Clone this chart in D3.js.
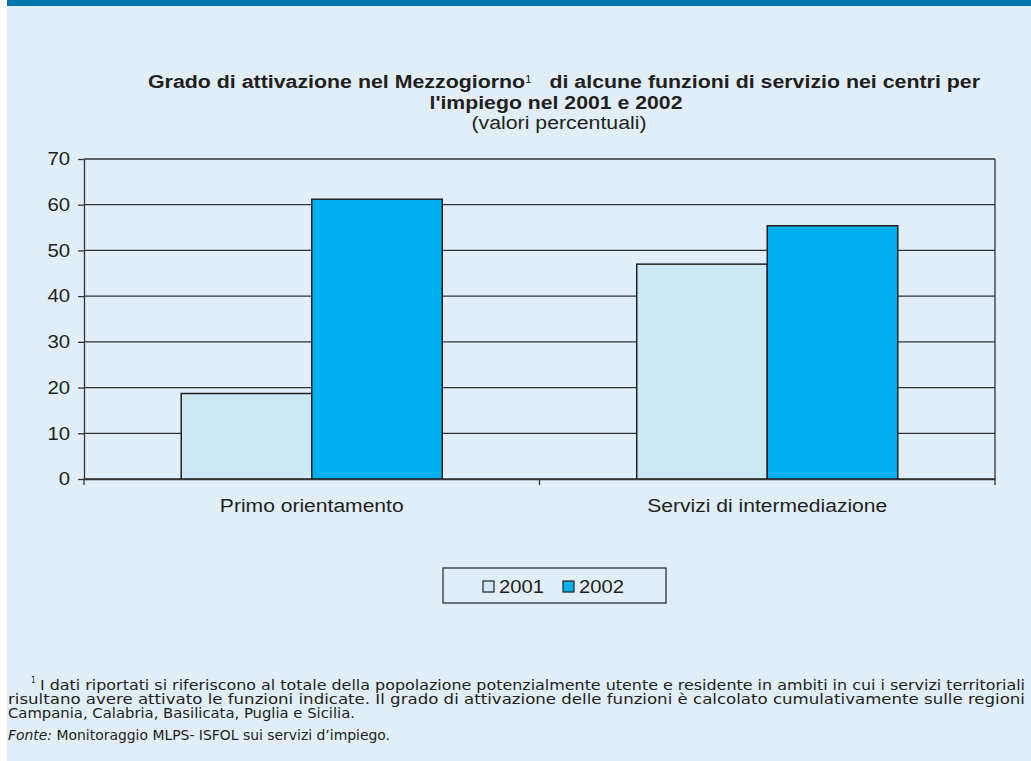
<!DOCTYPE html>
<html>
<head>
<meta charset="utf-8">
<script src="https://cdn.jsdelivr.net/npm/d3@7"></script>
<style>
  body { margin: 0; background: #fff; }
  svg { display: block; }
</style>
</head>
<body>
<svg class="viz" width="1031" height="761"></svg>
<script>
// data
var categories = ["Primo orientamento", "Servizi di intermediazione"];
var years = ["2001", "2002"];
var values2001 = [18.7, 47.0];
var values2002 = [61.2, 55.4];
var yTicks = [0, 10, 20, 30, 40, 50, 60, 70];
var yearColors = ["#cce9f5", "#00b0ee"];

var footLines = [
  "I dati riportati si riferiscono al totale della popolazione potenzialmente utente e residente in ambiti in cui i servizi territoriali",
  "risultano avere attivato le funzioni indicate. Il grado di attivazione delle funzioni è calcolato cumulativamente sulle regioni",
  "Campania, Calabria, Basilicata, Puglia e Sicilia."
];

var svg = d3.select(".viz"),
    margin = {top: 159, right: 36, bottom: 282, left: 84},
    width = +svg.attr("width"),
    height = +svg.attr("height");

var ink = "#231f20";
var sans = "'Liberation Sans', Arial, sans-serif";
var foot = "'DejaVu Sans Condensed', 'Liberation Sans Narrow', sans-serif";

// the original text is a bit wider than its height suggests
var stretch = function (sel, k) {
  sel.each(function () {
    var w = this.getComputedTextLength();
    d3.select(this).attr("textLength", w * k).attr("lengthAdjust", "spacingAndGlyphs");
  });
};
var fit = function (sel, w) {
  sel.attr("textLength", w).attr("lengthAdjust", "spacingAndGlyphs");
};

// background and top band
svg.append("rect").attr("x", 7).attr("y", 0).attr("width", width - 7).attr("height", height).attr("fill", "#e1eef7");
svg.append("rect").attr("x", 7).attr("y", 0).attr("width", width - 7).attr("height", 6).attr("fill", "#0077aa");

var x0 = d3.scaleBand()
  .domain(categories)
  .range([margin.left, width - margin.right]);

var x1 = d3.scaleBand()
  .domain(years)
  .range([0, x0.bandwidth()])
  .paddingOuter(0.745);

var y = d3.scaleLinear()
  .domain([0, 70])
  .range([height - margin.bottom, margin.top]);

// gridlines
svg.append("g").selectAll("line")
  .data(yTicks)
  .enter()
  .append("line")
    .attr("x1", margin.left)
    .attr("x2", width - margin.right)
    .attr("y1", function (d) { return y(d); })
    .attr("y2", function (d) { return y(d); })
    .style("stroke", "#333")
    .style("stroke-width", "1.3px");

// right frame
svg.append("line")
  .attr("x1", width - margin.right).attr("x2", width - margin.right)
  .attr("y1", y(70)).attr("y2", y(0))
  .style("stroke", "#333").style("stroke-width", "1.3px");

// bars
var rows = categories.map(function (c, i) {
  return {cat: c, vals: [values2001[i], values2002[i]]};
});

var groups = svg.append("g").selectAll("g")
  .data(rows)
  .enter()
  .append("g")
    .attr("transform", function (d) { return "translate(" + x0(d.cat) + ",0)"; });

groups.selectAll("rect")
  .data(function (d) { return d.vals.map(function (v, j) { return {year: years[j], value: v, j: j}; }); })
  .enter()
  .append("rect")
    .attr("x", function (d) { return x1(d.year); })
    .attr("width", x1.bandwidth())
    .attr("y", function (d) { return y(d.value); })
    .attr("height", function (d) { return y(0) - y(d.value); })
    .attr("fill", function (d) { return yearColors[d.j]; })
    .style("stroke", "#222")
    .style("stroke-width", "1.5px");

// y axis
var yAxis = d3.axisLeft(y)
  .tickValues(yTicks)
  .tickSize(6)
  .tickSizeOuter(0)
  .tickPadding(8);

var gy = svg.append("g")
  .attr("transform", "translate(" + margin.left + ",0)")
  .call(yAxis);
gy.selectAll("path, line").style("stroke", "#333").style("stroke-width", "1.3px");
gy.selectAll("text").style("font-family", sans).style("font-size", "18px").style("fill", ink)
  .call(stretch, 1.13);

// x axis
var xAxis = d3.axisBottom(x0).tickSize(0).tickPadding(20).tickSizeOuter(0);
var gx = svg.append("g")
  .attr("transform", "translate(0," + y(0) + ")")
  .call(xAxis);
gx.select(".domain").style("stroke", "#333").style("stroke-width", "1.3px");
gx.selectAll("text").style("font-family", sans).style("font-size", "18px").style("fill", ink)
  .call(stretch, 1.17);

var edges = [x0(categories[0])].concat(categories.map(function (c) { return x0(c) + x0.bandwidth(); }));
gx.selectAll(".edge")
  .data(edges)
  .enter()
  .append("line")
    .attr("class", "edge")
    .attr("x1", function (d) { return d; }).attr("x2", function (d) { return d; })
    .attr("y1", 0).attr("y2", 6)
    .style("stroke", "#333").style("stroke-width", "1.3px");

// title
var title = svg.append("text")
  .attr("x", 564).attr("y", 88)
  .attr("text-anchor", "middle")
  .style("font-family", sans).style("font-size", "18px").style("font-weight", "bold").style("fill", ink);
title.append("tspan").text("Grado di attivazione nel Mezzogiorno");
title.append("tspan").text("1").attr("dy", -5).style("font-size", "10px").style("font-weight", "normal");
title.append("tspan").text("\u00a0\u00a0 di alcune funzioni di servizio nei centri per").attr("dy", 5);
title.call(fit, 832);

svg.append("text")
  .attr("x", 556).attr("y", 109)
  .attr("text-anchor", "middle")
  .style("font-family", sans).style("font-size", "18px").style("font-weight", "bold").style("fill", ink)
  .text("l'impiego nel 2001 e 2002")
  .call(fit, 253);

svg.append("text")
  .attr("x", 559).attr("y", 129)
  .attr("text-anchor", "middle")
  .style("font-family", sans).style("font-size", "18px").style("fill", ink)
  .text("(valori percentuali)")
  .call(fit, 175);

// legend
var legend = svg.append("g");
legend.append("rect")
  .attr("x", 443).attr("y", 568).attr("width", 223).attr("height", 35)
  .attr("fill", "none").style("stroke", "#333").style("stroke-width", "1.3px");

var legendX = [483, 563];
years.forEach(function (yr, i) {
  legend.append("rect")
    .attr("x", legendX[i]).attr("y", 581).attr("width", 11).attr("height", 11)
    .attr("fill", yearColors[i]).style("stroke", "#222").style("stroke-width", "1.2px");
  legend.append("text")
    .attr("x", legendX[i] + 16).attr("y", 593)
    .style("font-family", sans).style("font-size", "18px").style("fill", ink)
    .text(yr)
    .call(fit, 45);
});

// footnote
var fn = svg.append("g").style("font-family", foot).style("font-size", "13.5px").style("fill", ink);
fn.append("text").attr("x", 31).attr("y", 683).style("font-size", "8px").text("1");
fn.append("text").attr("x", 40).attr("y", 690).text(footLines[0]).call(fit, 985);
fn.append("text").attr("x", 8).attr("y", 704).text(footLines[1]).call(fit, 1017);
fn.append("text").attr("x", 8).attr("y", 718).text(footLines[2]).call(fit, 347);
var fonte = fn.append("text").attr("x", 8).attr("y", 740);
fonte.append("tspan").style("font-style", "italic").text("Fonte:");
fonte.append("tspan").text(" Monitoraggio MLPS- ISFOL sui servizi d\u2019impiego.");
fonte.call(fit, 382);
</script>
</body>
</html>
